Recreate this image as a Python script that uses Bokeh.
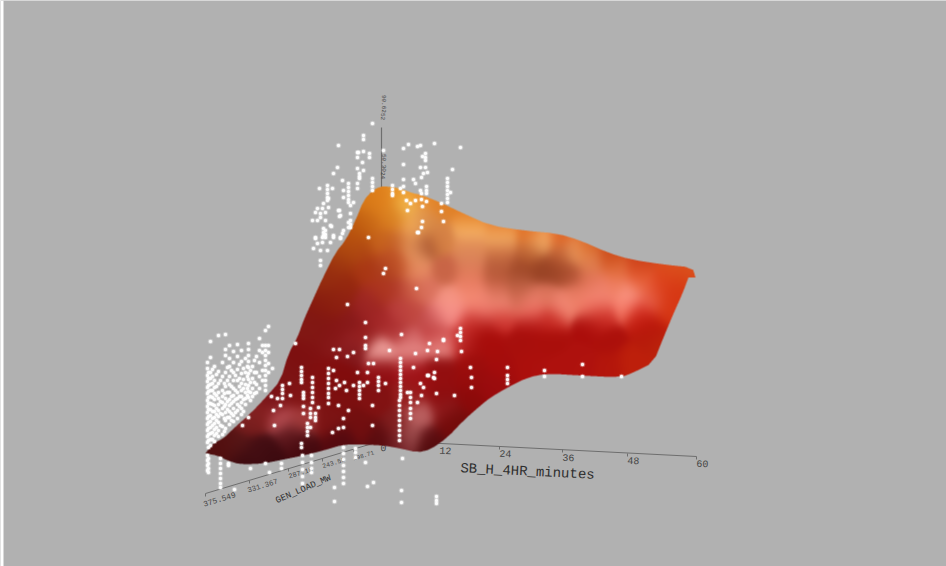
import numpy as np
from bokeh.plotting import figure
from bokeh.embed import file_html
from bokeh.resources import INLINE
from bokeh.core.properties import value

BG = "#b1b1b1"

# Surface silhouette, in projected picture coordinates
edge_x = [205,212,223,233,250,267,280,288,297,303,312,322,335,345,355,363,372,380,387,400,413,420,440,463,490,
          523,557,580,607,630,663,692,695,695,688,688,682,673,663,653,633,620,580,547,527,507,490,480,463,447,430,417,
          400,383,363,343,323,303,283,263,240,227,217,205]
edge_y = [453,443,438,428,413,395,380,353,337,320,300,278,252,240,220,200,190,186,186,188,193,194,202,213,225,
          230,233,240,252,259,264,267,277,277,277,277,293,313,337,362,372,377,375,373,377,387,397,405,420,437,449,452,
          448,445,444,444,450,455,459,463,464,460,455,453]

# Colour readings on the surface: x, y, r, g, b
shade = [
 (380,195,225,130,30),(360,225,195,95,15),(345,250,170,70,15),(330,280,150,45,15),(310,330,130,25,20),(290,370,125,20,20),
 (270,400,120,20,25),(250,420,110,25,25),(225,445,85,15,15),(395,215,220,135,35),(405,205,250,205,95),(398,240,195,95,40),
 (385,270,170,60,30),(370,300,160,40,35),(350,350,120,20,25),(400,192,235,150,40),(420,197,235,140,40),(440,205,225,130,40),
 (470,218,225,120,30),(500,226,225,110,30),(530,232,225,110,35),(560,236,225,100,35),(585,245,215,95,30),(610,256,205,75,25),
 (640,263,205,65,25),(670,268,220,80,30),(690,272,220,85,30),(470,228,250,190,115),(500,235,250,195,120),(540,240,248,185,115),
 (575,250,240,165,105),(540,270,150,65,35),(500,260,185,95,60),(570,275,175,80,50),(470,255,215,130,90),(520,285,185,95,65),
 (600,290,240,130,110),(630,295,252,165,150),(650,300,235,110,90),(560,305,245,140,120),(500,305,245,145,125),(450,300,245,150,130),
 (470,285,235,125,100),(440,315,245,140,135),(455,310,250,150,145),(480,312,240,120,110),(530,312,235,100,90),(600,312,225,70,60),
 (640,310,220,50,35),(480,325,170,15,12),(530,325,170,12,10),(590,325,170,12,10),(650,325,185,22,10),(665,310,215,55,20),
 (675,295,215,55,20),(685,282,215,60,20),(660,345,190,38,12),(630,360,190,32,12),(580,360,175,18,14),(530,360,172,16,13),
 (490,385,155,12,14),(470,400,140,10,10),(450,425,115,10,10),(430,440,105,15,20),(520,345,168,16,13),(470,345,165,14,12),
 (470,365,158,14,12),(410,225,245,175,90),(412,240,240,165,100),(414,255,238,160,105),(416,270,232,140,100),(423,245,155,70,38),
 (440,240,215,130,70),(445,270,200,100,70),(425,290,220,115,95),(430,225,215,135,70),(420,215,225,150,80),(390,220,215,120,30),
 (390,260,190,80,35),(395,290,175,55,40),(380,240,200,100,30),(370,220,205,110,25),(350,240,185,80,15),(365,270,170,55,20),
 (345,285,150,40,15),(325,310,135,25,15),(400,310,185,60,60),(430,320,190,70,70),(380,320,165,40,40),(350,320,135,25,25),
 (320,330,130,20,20),(410,340,210,100,100),(380,350,245,170,165),(410,352,245,165,160),(440,345,240,150,145),(460,340,205,60,58),
 (435,335,195,60,60),(350,345,160,40,40),(330,345,135,25,25),(300,360,125,15,15),(340,370,130,12,12),(380,368,145,14,18),
 (410,365,160,18,24),(440,368,145,14,15),(300,395,130,20,20),(340,395,125,15,15),(375,400,130,18,18),(410,395,150,30,30),
 (440,395,140,14,15),(280,417,185,80,85),(250,415,140,40,40),(300,420,165,60,60),(330,420,125,20,20),(360,425,115,15,15),
 (395,425,130,30,30),(420,415,190,100,100),(445,410,145,28,30),(410,435,170,90,90),(380,438,90,12,15),(340,440,85,10,15),
 (300,445,70,10,15),(260,450,70,15,20),(290,435,95,25,30),(235,445,90,25,25),(215,450,80,15,15),(240,458,60,10,15),
 (270,457,60,10,15),(430,445,70,10,10),(400,443,110,30,35),(455,420,115,12,10),
 (470,245,230,145,85),(500,248,220,130,75),(530,252,190,100,52),(560,255,190,95,52),(590,262,225,130,80),(615,270,225,110,60),
 (640,275,225,85,40),(665,280,220,65,25),(470,270,225,125,90),(495,275,185,90,58),(520,270,160,72,40),(555,270,155,68,38),
 (590,280,225,115,85),(615,285,240,125,95),(640,285,235,105,70),(665,295,215,55,20),(470,298,245,140,115),(495,292,215,110,85),
 (520,297,205,100,75),(545,295,220,115,90),(575,295,235,125,100),(600,300,245,140,120),(655,290,225,75,40),(480,302,245,140,120),
 (530,302,245,140,120),(590,305,245,130,110),(625,305,250,130,110),(470,320,205,50,45),(500,318,205,50,45),(550,318,200,42,35),
 (600,318,190,30,22),(640,318,190,26,14),(490,340,168,13,11),(550,340,170,15,11),(610,340,172,16,11),(650,340,182,26,12),
 (500,365,165,13,12),(560,368,175,18,14),(610,365,180,22,12),(640,365,190,32,12),(440,380,150,14,15),(470,380,150,12,12),
 (420,380,160,18,22),(320,370,130,15,15),(280,395,125,18,20),(260,410,135,30,30),(310,350,128,18,18),(335,330,135,22,22),
 (365,335,150,30,30),(395,330,175,50,50),(365,310,155,35,35),(340,300,145,32,18),(380,290,175,55,30),(410,310,195,75,65),
 (410,290,205,95,70),(400,265,195,85,42),(360,250,175,70,20),(330,300,140,35,15),(315,325,130,25,18),(385,205,225,130,30),
 (370,200,215,120,22),(355,235,185,85,15),(340,265,160,55,15),
]

# White observations: stripes of (x, [y, ...]) in projected picture coordinates
cloud_left = [
 (207,[362,368,375,381,387,393,400,406,412,418,424,430,436,442,455,460,465,470]),
 (208,[372,378,385,391,397,403,409,416,422,428,434,440,447,458,463,468,472]),
 (210,[341,357,372,378,384,390,396,403,409,415,421,427,433,439,445]),
 (212,[369,376,383,390,397,404,411,418,425,432,439]),
 (214,[366,380,387,393,399,405,411,417,423,429,435,441]),
 (216,[374,386,395,408,414,420,427,433]),
 (218,[335,371,383,392,398,404,410,416,422,430,436]),
 (220,[458,463,468,473,478,483,487,380,401,413,425]),
 (222,[362,376,390,396,402,408,414,426,434]),
 (224,[383,393,406,418,431]),
 (225,[334,349,355,372,386,398,404,412,420,428]),
 (227,[367,380,392,401,409,417]),
 (228,[463,465]),
 (229,[345,358,366,376,384,392,399,405,411,417,424]),
 (231,[370,386,396,403,413,420]),
 (233,[351,362,372,380,388,395,401,408,415,421]),
 (235,[375,390,399,412]),
 (237,[344,356,369,380,392,398,404,410,418]),
 (239,[364,378,386,396,406]),
 (241,[350,361,373,383,390,396,402,408,414]),
 (243,[368,379,388,399,411]),
 (245,[358,372,384,392,398,404]),
 (247,[366,376,388,395]),
 (248,[343,349,355,361,367,373,379,385,391,397]),
 (250,[370,382,392,400]),
 (252,[366,378,388,396]),
 (254,[360,372,382,393]),
 (256,[356,372,384,392]),
 (259,[338,350,362,376,388]),
 (262,[345,352,370,380]),
 (265,[330,345,350,355,360,365,370,375,380,385,390]),
 (268,[326,345,352,363,372]),
 (272,[368]),
]
cloud_upper = [
 (312,[220]),(313,[248]),(315,[212,237,238]),(317,[208,220,243]),(319,[188]),(320,[213,217,250,260,265]),
 (322,[208,237,242]),(323,[203,228,232,235]),(325,[212,220,230,234,237]),(327,[185,189,193,197,200,250]),(328,[198,207]),
 (330,[225,242]),(331,[226]),(332,[188]),(333,[173,235,237]),(337,[167]),(338,[145,210]),(339,[210,216]),(340,[215,237,238]),
 (342,[180,233]),(343,[190,197,230]),(348,[183,187,191,195,199,202,222,227]),(350,[205,213,220,224,227]),(353,[202]),
 (357,[152,157,168,183,188]),(358,[152]),(359,[173,176,178]),(362,[162]),(363,[135,139,151,170]),(369,[153,157]),
 (372,[123,178,182,186,190]),(383,[150]),
 (392,[185,189,193,195]),(400,[188]),(403,[148,164,179,186,192]),(406,[200]),(407,[210]),(408,[144]),(410,[203]),
 (413,[179]),(415,[183,200]),(417,[146,232]),(418,[232]),(420,[145,167,190]),(421,[177,193,199,227]),(422,[156,206,221]),
 (423,[173]),(425,[153,157,160,167]),(426,[186,190,193,201]),(427,[172]),(434,[143]),(441,[203,211]),(443,[221]),
 (447,[178,182,186,190,194,198,202]),(450,[192]),(452,[169]),(460,[147]),(368,[237]),
]
cloud_surface = [
 (242,[425]),(248,[417]),(271,[396]),(273,[410]),(274,[425]),(277,[398]),(280,[405]),(282,[385,389,393,398]),(289,[383]),
 (290,[395]),(295,[343]),(301,[367,371,375,379,382,443,447]),(303,[392,395,398,406,413]),(307,[423,427,431,435]),
 (310,[408,413,417,427]),(312,[377,382,387,392,397,402]),(315,[413,417,420]),(318,[407]),(328,[368,373,378,383,388,393,397,403]),
 (332,[432]),(333,[349,370]),(335,[388]),(336,[357,380]),(338,[405,428]),(339,[349,385]),(343,[418,427]),(344,[382]),
 (346,[390]),(347,[304,356]),(348,[410]),(353,[352,385]),(357,[372]),(359,[382,386,390,394,398]),(363,[385]),
 (365,[322,337,345,348]),(367,[372,382]),(368,[363]),(372,[405,425]),(373,[363]),(378,[377,381,385,390]),(383,[273]),
 (385,[268,383]),(389,[350]),(399,[400,405,410,415,420,425,430,435,440]),
 (400,[358,362,366,370,374,378,382,386,390,394,397]),(401,[334]),(407,[392]),(410,[392,397,402,408,413,418]),(413,[367]),
 (415,[353]),(416,[288]),(417,[402]),(420,[383]),(421,[395]),(423,[387]),(427,[350,375]),(428,[375]),(429,[343]),
 (433,[377]),(434,[372,378]),(436,[359,393]),(437,[351]),(443,[339,340]),(454,[395]),(457,[335]),(460,[328,332,336,340]),
 (461,[351]),(470,[367]),(471,[377,387]),(507,[367,375,379,383]),(544,[370,376]),(582,[364,376]),(621,[376]),
]
cloud_lower = [
 (234,[489]),(250,[468]),(265,[463]),(269,[472]),(281,[463,468]),(302,[455,462,469,476,483]),(311,[455,462,468,472]),
 (334,[487,501]),(343,[447,453,459,465,471,477,483]),(355,[448,452,457]),(365,[462]),(367,[486]),(373,[482]),(401,[490,502]),
 (402,[458]),(436,[496,500,503]),
]

x_tick_labels = ["0","12","24","36","48","60"]
load_tick_labels = ["375.549","331.367","287.18","243.50","198.71"]
height_tick_labels = ["90.6252","50.3024"]

# Axes in projected picture coordinates
minute_axis_x = [382,696]; minute_axis_y = [440,456]
minute_tick_x = [499,562,627,696]; minute_tick_y = [446,449,453,456]
minute_label_x = [383,445,505,568,633,702]; minute_label_y = [447,450,453,457,460,463]
load_axis_x = [205,372]; load_axis_y = [493,443]
load_tick_x = [205,249,288,322,353]; load_tick_y = [493,480,468,458,449]
load_label_x = [219,262,300,333,363]; load_label_y = [499,485,472,462,455]
load_label_px = [8.0,7.5,7.0,6.5,6.0]
height_axis_x = [381,381]; height_axis_y = [127,187]
height_label_y = [107,166]

def flatten(stripes):
    xs, ys = [], []
    for x, col in stripes:
        for y in col:
            xs.append(x); ys.append(y)
    return xs, ys

def rounded_outline(xs, ys, passes=1):
    pts = np.column_stack([xs, ys]).astype(float)
    for _ in range(passes):
        nxt = np.roll(pts, -1, axis=0)
        pts = np.column_stack([0.75*pts+0.25*nxt, 0.25*pts+0.75*nxt]).reshape(-1, 2)
    return pts[:, 0], pts[:, 1]

def surface_image():
    ex, ey = rounded_outline(edge_x, edge_y)
    x0, x1, y0, y1 = int(ex.min())-2, int(ex.max())+3, int(ey.min())-2, int(ey.max())+3
    w, h = x1-x0, y1-y0
    ss = 3
    gx = x0 + (np.arange(w*ss)+.5)/ss
    gy = y0 + (np.arange(h*ss)+.5)/ss
    X, Y = np.meshgrid(gx, gy)
    inside = np.zeros(X.shape, bool)
    n = len(ex)
    for i in range(n):
        a, b = i, (i+1) % n
        if ey[a] == ey[b]:
            continue
        c = (ey[a] > Y) != (ey[b] > Y)
        xi = ex[a] + (Y-ey[a])*(ex[b]-ex[a])/(ey[b]-ey[a])
        inside ^= c & (X < xi)
    alpha = inside.reshape(h, ss, w, ss).mean(axis=(1, 3))
    px, py = np.meshgrid(x0+np.arange(w)+.5, y0+np.arange(h)+.5)
    s = np.array(shade, float)
    wt = np.exp(-((px[..., None]-s[:, 0])**2+(py[..., None]-s[:, 1])**2)/(2*9.0**2)) + 1e-12
    rgb = (wt[..., None]*s[:, 2:5]).sum(axis=2)/wt.sum(axis=2, keepdims=True)
    img = np.zeros((h, w, 4), np.uint8)
    img[..., :3] = np.clip(rgb, 0, 255).astype(np.uint8)
    img[..., 3] = (alpha*255).astype(np.uint8)
    return img.view(np.uint32).reshape(h, w), x0, y0, w, h

p = figure(width=946, height=566, output_backend="svg", toolbar_location=None,
           x_range=(0, 946), y_range=(566, 0), min_border=0,
           background_fill_color=BG, border_fill_color=BG, outline_line_color=None)
p.axis.visible = False
p.grid.visible = False

p.quad(left=[0], right=[3], top=[0], bottom=[566], fill_color="#ffffff", line_color=None)

axcol = "#6e6e6e"
p.line(minute_axis_x, minute_axis_y, line_color=axcol, line_width=1)
p.line(load_axis_x, load_axis_y, line_color=axcol, line_width=1)
p.line(height_axis_x, height_axis_y, line_color=axcol, line_width=1.2)
p.segment(minute_tick_x, minute_tick_y, minute_tick_x, [v+3 for v in minute_tick_y], line_color=axcol)
p.segment(load_tick_x, load_tick_y, load_tick_x, [v+3 for v in load_tick_y], line_color=axcol)

mono = value("Liberation Mono")
p.text(minute_label_x, minute_label_y, text=x_tick_labels, text_font=mono, text_font_size="10px",
       text_color="#444444", text_align="center", text_baseline="middle", angle=-0.04)
p.text(load_label_x, load_label_y, text=load_tick_labels, text_font=mono,
       text_font_size=[f"{v}px" for v in load_label_px], text_color="#444444",
       text_align="center", text_baseline="middle", angle=0.3)
p.text([383]*2, height_label_y, text=height_tick_labels, text_font=mono, text_font_size="6px",
       text_color="#444444", text_align="center", text_baseline="middle", angle=-1.5708)

img, ix, iy, iw, ih = surface_image()
p.image_rgba(image=[img], x=ix, y=iy, dw=iw, dh=ih)

for stripes in (cloud_left, cloud_upper, cloud_surface, cloud_lower):
    xs, ys = flatten(stripes)
    p.scatter(xs, ys, size=5.5, marker="circle", fill_color="#ffffff", fill_alpha=0.3, line_color=None)
    p.scatter(xs, ys, size=3.4, marker="circle", fill_color="#ffffff", fill_alpha=0.95, line_color=None)

p.text([527], [471], text=["SB_H_4HR_minutes"], text_font=mono, text_font_size="14px",
       text_color="#2e2e2e", text_align="center", text_baseline="middle", angle=-0.05)
p.text([303], [489], text=["GEN_LOAD_MW"], text_font=mono, text_font_size="9px",
       text_color="#2e2e2e", text_align="center", text_baseline="middle", angle=0.41)

html = file_html(p, INLINE)
open("out.html", "w").write(html)
